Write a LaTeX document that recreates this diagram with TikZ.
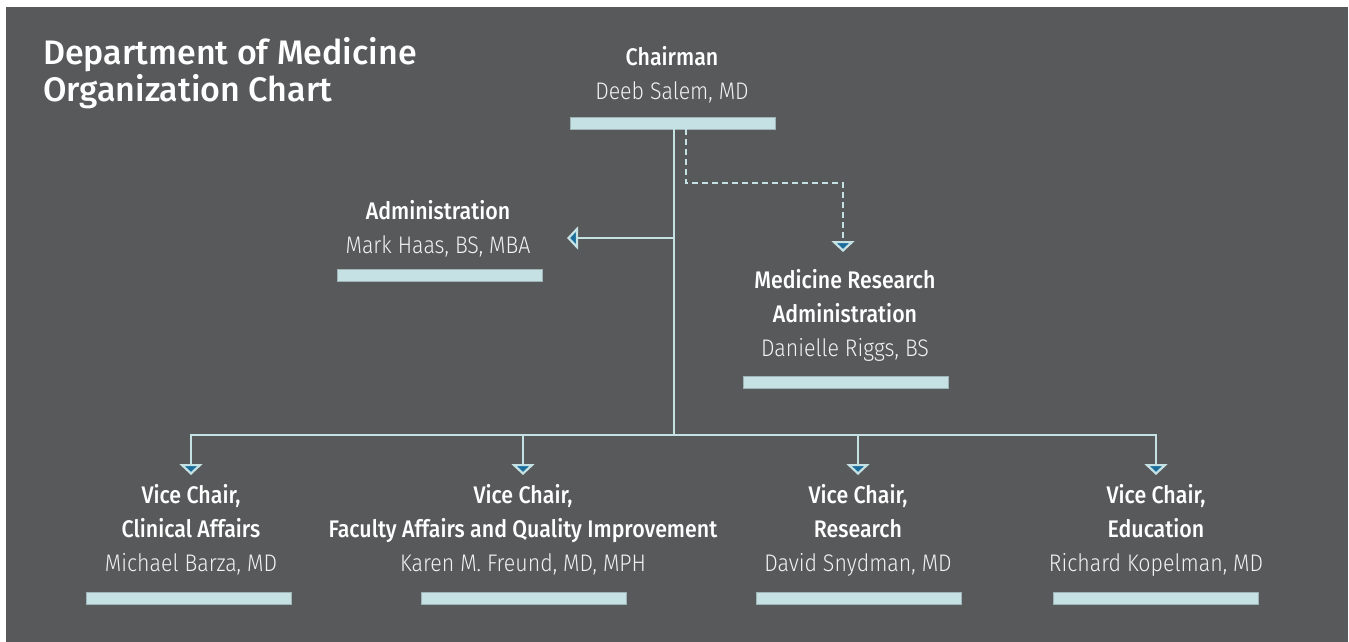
\documentclass[tikz,border=0pt]{standalone}
\usepackage{fontspec}
\setmainfont{Fira Sans}[UprightFont={* Light}, BoldFont={* Medium}, FakeStretch=0.89]
\newfontfamily\titlefont{Fira Sans Medium}
\usetikzlibrary{arrows.meta}
\definecolor{bg}{HTML}{58595B}
\definecolor{lineC}{HTML}{C5E1E3}
\definecolor{tipC}{HTML}{1B6D9C}
\definecolor{nameC}{HTML}{F2F2F2}
\tikzset{
  conn/.style={draw=lineC, line width=2.4pt},
  tipped/.style={-{Triangle[width=23pt,length=11pt,fill=tipC,line width=2.2pt]}},
  dashconn/.style={conn, dash pattern=on 6pt off 4pt},
  bar/.style={draw=lineC!80!black, line width=0.6pt, fill=lineC, minimum width=205pt, minimum height=12pt, inner sep=0pt},
  role/.style={align=center, text=white, font=\fontsize{24}{34}\selectfont, inner sep=0pt},
  ttl/.style={anchor=base west, text=white, font=\fontsize{34}{37}\selectfont\titlefont, inner sep=0pt}
}
\begin{document}
\begin{tikzpicture}[x=1pt,y=-1pt]
\useasboundingbox (0,0) rectangle (1349,642);
\fill[bg] (6,7) rectangle (1348,642);
% title
\node[ttl] (t1) at (43,64) {Department of Medicine};
\node[ttl] (t2) at (43,101) {Organization Chart};
% chairman
\node[role] (chair) at (672,75) {\textbf{Chairman}\\\textcolor{nameC}{Deeb Salem, MD}};
\node[bar] (chairbar) at (672.5,123) {};
% administration
\node[role] (admin) at (438,229) {\textbf{Administration}\\\textcolor{nameC}{Mark Haas, BS, MBA}};
\node[bar] (adminbar) at (439.5,275) {};
% medicine research administration
\node[role] (mra) at (845,315) {\textbf{Medicine Research}\\\textbf{Administration}\\\textcolor{nameC}{Danielle Riggs, BS}};
\node[bar] (mrabar) at (845.5,382) {};
% vice chairs
\node[role] (vc1) at (191,530) {\textbf{Vice Chair,}\\\textbf{Clinical Affairs}\\\textcolor{nameC}{Michael Barza, MD}};
\node[bar] (vc1bar) at (189,598) {};
\node[role] (vc2) at (523,530) {\textbf{Vice Chair,}\\\textbf{Faculty Affairs and Quality Improvement}\\\textcolor{nameC}{Karen M. Freund, MD, MPH}};
\node[bar] (vc2bar) at (523.5,598) {};
\node[role] (vc3) at (858,530) {\textbf{Vice Chair,}\\\textbf{Research}\\\textcolor{nameC}{David Snydman, MD}};
\node[bar] (vc3bar) at (858.5,598) {};
\node[role] (vc4) at (1156,530) {\textbf{Vice Chair,}\\\textbf{Education}\\\textcolor{nameC}{Richard Kopelman, MD}};
\node[bar] (vc4bar) at (1155.5,598) {};
% coordinates
\coordinate (trunk) at (674,435);
\coordinate (adminTip) at (567,238);
\coordinate (dashTurn) at (686,183);
\coordinate (mraTip) at (843,252);
\coordinate (vc1Tip) at (191,475);
\coordinate (vc2Tip) at (523,475);
\coordinate (vc3Tip) at (858,475);
\coordinate (vc4Tip) at (1156,475);
% connectors
\draw[conn] (chairbar.south -| trunk) -- (trunk);
\draw[conn,tipped] (trunk |- adminTip) -- (adminTip);
\draw[dashconn,tipped] (chairbar.south -| dashTurn) -- (dashTurn) -| (mraTip);
\draw[conn,tipped] (trunk) -| (vc1Tip);
\draw[conn,tipped] (trunk) -| (vc2Tip);
\draw[conn,tipped] (trunk) -| (vc3Tip);
\draw[conn,tipped] (trunk) -| (vc4Tip);
\end{tikzpicture}
\end{document}
